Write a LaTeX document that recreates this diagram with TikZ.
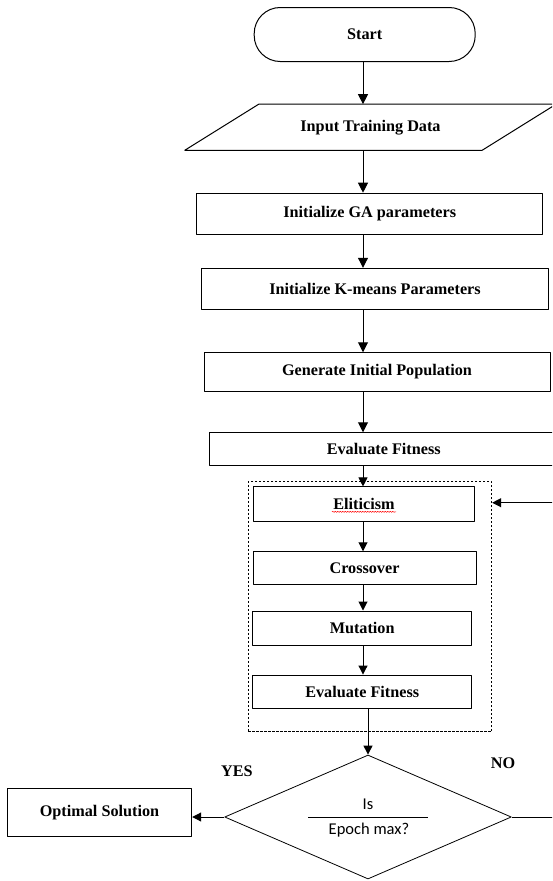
\documentclass[tikz,border=0pt]{standalone}
\usepackage{fontspec}
\setmainfont{Liberation Serif}
\newfontfamily\calib{Carlito}
\usetikzlibrary{arrows.meta,shapes.geometric,decorations.pathmorphing}
\tikzset{
  procbox/.style={draw,line width=1pt,inner sep=0pt},
  termbox/.style={draw,line width=1pt,inner sep=0pt,rounded corners=26pt},
  loopbox/.style={draw,line width=0.9pt,dash pattern=on 2.5pt off 1.5pt,inner sep=0pt},
  decide/.style={diamond,draw,line width=0.8pt,inner sep=0pt},
  dtext/.style={font=\calib\fontsize{16.5}{18}\selectfont,inner sep=0pt},
  arr/.style={line width=1pt,-{Triangle[length=10pt,width=10pt]}},
  arrs/.style={line width=1pt,-{Triangle[length=9pt,width=9pt]}}
}
\begin{document}
\begin{tikzpicture}[x=1pt,y=-1pt,line join=round,
  font=\bfseries\fontsize{16.2}{18}\selectfont]
\clip (0,0) rectangle (552,881);
\coordinate (spine) at (363,0);
% start and input
\node[termbox,minimum width=221pt,minimum height=54pt] (start) at (364.7,34.5) {Start};
\node[inner sep=0pt,minimum width=297pt,minimum height=45.7pt] (input) at (370.5,127.2) {Input Training Data};
\draw[line width=1pt] ([xshift=37pt]input.north west) -- ([xshift=37pt]input.north east)
  -- ([xshift=-37pt]input.south east) -- ([xshift=-37pt]input.south west) -- cycle;
% setup
\node[procbox,minimum width=346pt,minimum height=41pt] (ga) at (369.7,213.7) {Initialize GA parameters};
\node[procbox,minimum width=346.6pt,minimum height=41pt] (km) at (375,288.8) {Initialize K-means Parameters};
\node[procbox,minimum width=346pt,minimum height=38.3pt] (gen) at (377,371.9) {Generate Initial Population};
\node[procbox,minimum width=349pt,minimum height=32.3pt] (eval) at (383.7,448.9) {Evaluate Fitness};
% GA loop
\node[loopbox,minimum width=243.4pt,minimum height=250pt] (loop) at (370,606.7) {};
\node[procbox,minimum width=221pt,minimum height=34.7pt] (elit) at (364,504.3) {Eliticism};
\draw[red,line width=0.5pt,decorate,decoration={snake,amplitude=0.6pt,segment length=2.5pt}]
  ([xshift=-32pt,yshift=-7.5pt]elit.center) -- ([xshift=32pt,yshift=-7.5pt]elit.center);
\node[procbox,minimum width=223pt,minimum height=32.3pt] (cross) at (364.5,567.9) {Crossover};
\node[procbox,minimum width=219pt,minimum height=34pt] (mut) at (362.2,628) {Mutation};
\node[procbox,minimum width=219pt,minimum height=33.3pt] (eval2) at (362.2,691.7) {Evaluate Fitness};
% decision
\node[decide,minimum width=286.7pt,minimum height=124pt] (dia) at (368,817) {};
\node[dtext] (is) at (368,804) {Is};
\node[dtext] (ep) at (369,830) {Epoch max?};
\draw[line width=0.8pt] ([xshift=-60pt]dia.center) -- ([xshift=60pt]dia.center);
\node[procbox,minimum width=184.4pt,minimum height=48.4pt] (opt) at (99.5,812.5) {Optimal Solution};
\node (yes) at (237,771) {YES};
\node (no) at (503,763) {NO};
% arrows
\draw[arr] (start.south -| spine) -- (input.north -| spine);
\draw[arr] (input.south -| spine) -- (ga.north -| spine);
\draw[arr] (ga.south -| spine) -- (km.north -| spine);
\draw[arr] (km.south -| spine) -- (gen.north -| spine);
\draw[arr] (gen.south -| spine) -- (eval.north -| spine);
\draw[arrs] (eval.south -| spine) -- (elit.north -| spine);
\draw[arrs] (elit.south -| spine) -- (cross.north -| spine);
\draw[arrs] (cross.south -| spine) -- (mut.north -| spine);
\draw[arrs] (mut.south -| spine) -- (eval2.north -| spine);
\draw[arrs] (eval2.south -| dia.north) -- (dia.north);
\draw[arrs] (dia.west) -- (opt.east |- dia.west);
\coordinate (back) at (560,502.7);
\draw[arrs] (dia.east) -- (dia.east -| back) -- (back) -- (back -| loop.east);
\end{tikzpicture}
\end{document}
